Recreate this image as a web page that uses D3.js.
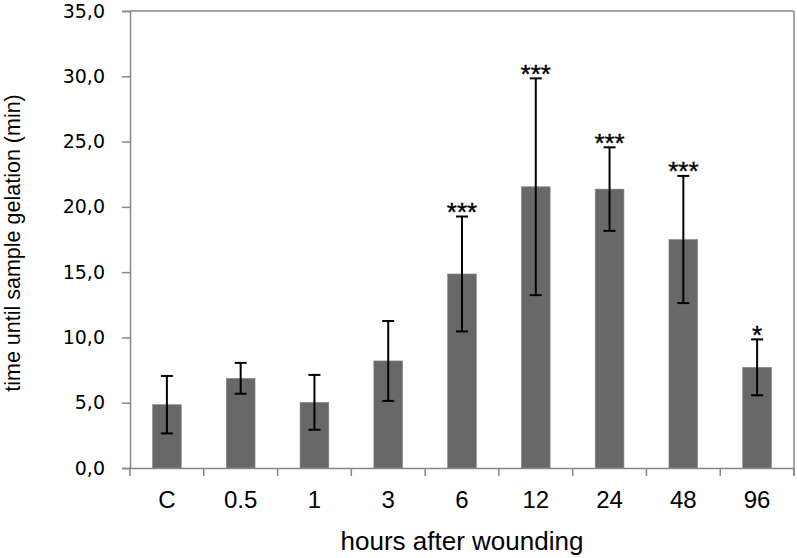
<!DOCTYPE html>
<html>
<head>
<meta charset="utf-8">
<script src="https://cdn.jsdelivr.net/npm/d3@7"></script>
<style>
  html, body { margin: 0; padding: 0; background: #fff; }
  svg { display: block; }
</style>
</head>
<body>
<script>
const categories = ["C", "0.5", "1", "3", "6", "12", "24", "48", "96"];
const means = [4.85, 6.87, 5.03, 8.2, 14.86, 21.54, 21.36, 17.5, 7.71];
const errors = [2.2, 1.18, 2.1, 3.06, 4.4, 8.3, 3.2, 4.87, 2.14];
const significance = ["", "", "", "", "***", "***", "***", "***", "*"];
const yTicks = [0, 5, 10, 15, 20, 25, 30, 35];

const W = 797, H = 558;
const margin = { top: 11, right: 3, bottom: 90, left: 130 };
const iw = W - margin.left - margin.right;
const ih = H - margin.top - margin.bottom;

const svg = d3.select("body").append("svg").attr("width", W).attr("height", H);
const g = svg.append("g").attr("transform", `translate(${margin.left},${margin.top})`);

const x = d3.scaleBand().domain(categories).range([0, iw]).paddingInner(0.61).paddingOuter(0.305);
const xt = d3.scaleBand().domain(categories).range([0, iw]);
const y = d3.scaleLinear().domain([0, 35]).range([ih, 0]);

const locale = d3.formatLocale({ decimal: ",", thousands: ".", grouping: [3], currency: ["", ""] });
const fmt = locale.format(".1f");

const axisColor = "#878787";

// frame (top and right)
g.append("line").attr("x1", 0).attr("x2", iw).attr("y1", y(35)).attr("y2", y(35))
  .attr("stroke", axisColor).attr("stroke-width", 1.5);
g.append("line").attr("x1", iw).attr("x2", iw).attr("y1", y(35)).attr("y2", ih + 8)
  .attr("stroke", axisColor).attr("stroke-width", 1.5);

// bars
g.selectAll("rect.bar").data(categories).join("rect")
  .attr("class", "bar")
  .attr("x", d => x(d))
  .attr("width", x.bandwidth())
  .attr("y", (d, i) => y(means[i]))
  .attr("height", (d, i) => y(0) - y(means[i]))
  .attr("fill", "#686868")
  .attr("stroke", "#8a8a8a")
  .attr("stroke-width", 0.6);

// y axis
const yAxis = g.append("g")
  .call(d3.axisLeft(y).tickValues(yTicks).tickFormat(fmt).tickSize(8).tickPadding(17));
yAxis.select(".domain").attr("stroke", axisColor).attr("stroke-width", 1.5);
yAxis.selectAll(".tick line").attr("stroke", axisColor).attr("stroke-width", 1.5);
yAxis.selectAll(".tick text").attr("font-family", "'DejaVu Sans', Verdana, sans-serif")
  .attr("font-size", 19).attr("fill", "#000");

// x axis
const xAxis = g.append("g").attr("transform", `translate(0,${ih})`)
  .call(d3.axisBottom(xt).tickSize(0).tickPadding(23));
xAxis.select(".domain").attr("stroke", axisColor).attr("stroke-width", 1.5);
xAxis.selectAll(".tick text").attr("font-family", "'Liberation Sans', Arial, sans-serif")
  .attr("font-size", 24).attr("fill", "#000");
// category boundary ticks
const bounds = d3.range(categories.length + 1).map(i => i * xt.step());
g.append("g").selectAll("line").data(bounds).join("line")
  .attr("x1", d => d).attr("x2", d => d)
  .attr("y1", ih).attr("y2", ih + 8)
  .attr("stroke", axisColor).attr("stroke-width", 1.5);

// error bars
const eb = g.append("g").attr("stroke", "#000").attr("stroke-width", 2);
categories.forEach((c, i) => {
  const cx = x(c) + x.bandwidth() / 2;
  const top = y(means[i] + errors[i]);
  const bot = y(means[i] - errors[i]);
  eb.append("line").attr("x1", cx).attr("x2", cx).attr("y1", top).attr("y2", bot);
  eb.append("line").attr("x1", cx - 6).attr("x2", cx + 6).attr("y1", top).attr("y2", top);
  eb.append("line").attr("x1", cx - 6).attr("x2", cx + 6).attr("y1", bot).attr("y2", bot);
});

// significance stars
g.append("g").selectAll("text").data(categories).join("text")
  .attr("x", d => x(d) + x.bandwidth() / 2)
  .attr("y", (d, i) => y(means[i] + errors[i]) + 4.5)
  .attr("text-anchor", "middle")
  .attr("font-family", "'Liberation Sans', Arial, sans-serif")
  .attr("font-size", 26)
  .attr("stroke", "#000")
  .attr("stroke-width", 0.4)
  .attr("fill", "#000")
  .text((d, i) => significance[i]);

// axis titles
svg.append("text")
  .attr("x", margin.left + iw / 2)
  .attr("y", 550)
  .attr("text-anchor", "middle")
  .attr("font-family", "'Liberation Sans', Arial, sans-serif")
  .attr("font-size", 26)
  .attr("fill", "#000")
  .text("hours after wounding");

svg.append("text")
  .attr("transform", `translate(20,${243}) rotate(-90)`)
  .attr("text-anchor", "middle")
  .attr("font-family", "'Liberation Sans', Arial, sans-serif")
  .attr("font-size", 21.5)
  .attr("fill", "#000")
  .text("time until sample gelation (min)");
</script>
</body>
</html>
